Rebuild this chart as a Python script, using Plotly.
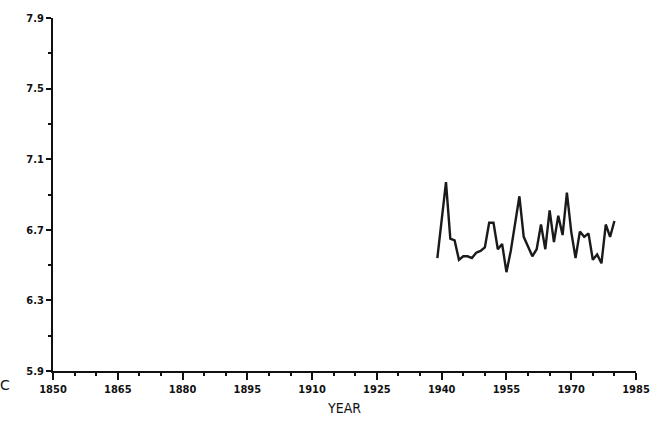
import plotly.graph_objects as go

# 年份和温度数据
years = list(range(1939, 1981))
temps = [6.54, 6.76, 6.97, 6.65, 6.64, 6.53, 6.55, 6.55, 6.54, 6.57,
         6.58, 6.60, 6.74, 6.74, 6.59, 6.62, 6.46, 6.58, 6.73, 6.89,
         6.66, 6.60, 6.55, 6.59, 6.73, 6.59, 6.81, 6.63, 6.78, 6.67,
         6.91, 6.69, 6.54, 6.69, 6.66, 6.68, 6.53, 6.56, 6.51, 6.73,
         6.66, 6.75]

x_ticks = [1850, 1865, 1880, 1895, 1910, 1925, 1940, 1955, 1970, 1985]
y_ticks = [5.9, 6.3, 6.7, 7.1, 7.5, 7.9]

tick_font = dict(family="DejaVu Sans Condensed", size=11, color="#111", weight="bold")

fig = go.Figure()
fig.add_trace(go.Scatter(x=years, y=temps, mode="lines",
                         line=dict(color="#1a1a1a", width=2.4),
                         showlegend=False))

fig.update_xaxes(range=[1850, 1985], tickvals=x_ticks,
                 ticks="outside", ticklen=7, tickwidth=1.5, tickcolor="#111",
                 minor=dict(dtick=5, tick0=1850, ticks="outside", ticklen=3,
                            tickwidth=1.5, tickcolor="#111"),
                 showline=True, linecolor="#111", linewidth=1.8,
                 showgrid=False, zeroline=False, tickfont=tick_font,
                 title=dict(text="YEAR", standoff=8,
                            font=dict(family="DejaVu Sans Condensed", size=14, color="#111")))
fig.update_yaxes(range=[5.9, 7.9], tickvals=y_ticks, tickformat=".1f",
                 ticks="outside", ticklen=5, tickwidth=1.5, tickcolor="#111",
                 minor=dict(dtick=0.2, tick0=5.9, ticks="outside", ticklen=3,
                            tickwidth=1.5, tickcolor="#111"),
                 showline=True, linecolor="#111", linewidth=1.8,
                 showgrid=False, zeroline=False, tickfont=tick_font)

# 左下角截断的单位标签
fig.add_annotation(text="C", xref="paper", yref="paper", x=-0.083, y=-0.04,
                   xanchor="center", yanchor="middle", showarrow=False,
                   font=dict(family="DejaVu Sans", size=14, color="#111"))

fig.update_layout(width=665, height=427,
                  margin=dict(l=53, r=29, t=12, b=56),
                  plot_bgcolor="white", paper_bgcolor="white")

# 去掉页面body的默认边距, 隐藏工具栏
fig.write_html("out.html", config={"displayModeBar": False},
               post_script="document.body.style.margin='0px';")
